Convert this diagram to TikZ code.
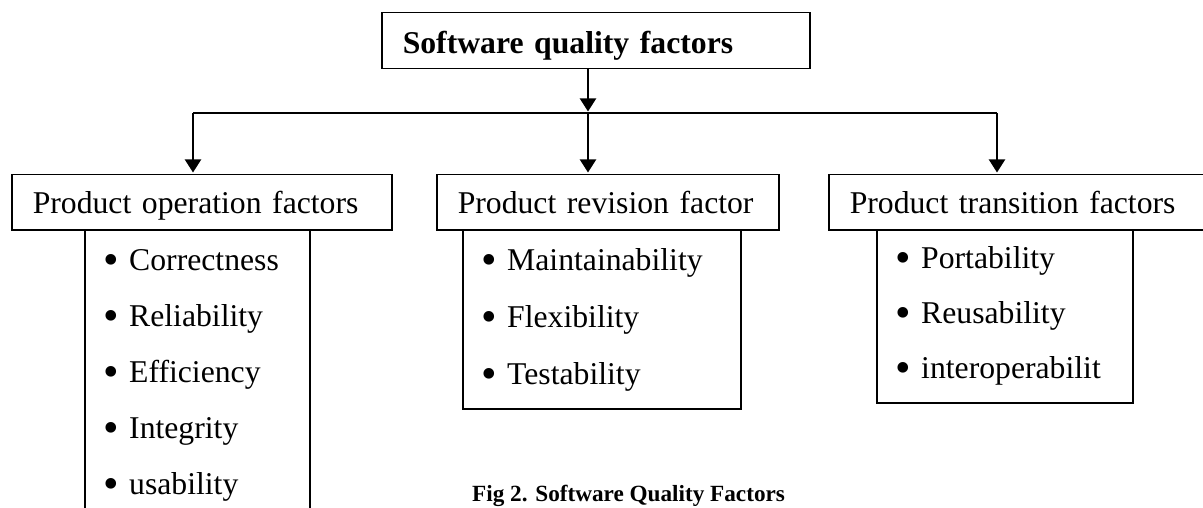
\documentclass[tikz,border=0pt]{standalone}
\usepackage{fontspec}
\setmainfont{Liberation Serif}
\usetikzlibrary{arrows.meta}
\tikzset{
  head/.style={draw, line width=1.5pt, anchor=north west, inner xsep=21pt, inner ysep=0pt,
    minimum height=55pt, align=left, text height=23.1pt, text depth=0pt,
    font=\fontsize{31.7pt}{38pt}\selectfont},
  sublist/.style={draw, line width=1.5pt, anchor=north west, inner sep=0pt},
  entry/.style={anchor=base west, inner sep=0pt, font=\fontsize{31.7pt}{38pt}\selectfont},
  link/.style={draw, line width=1.5pt},
  arrow/.style={-{Triangle[width=16pt,length=13pt]}, line width=2pt, shorten >=1.5pt},
  caption/.style={anchor=base west, inner sep=0pt, font=\fontsize{23.2pt}{28pt}\selectfont\bfseries}
}
\newcommand{\itemdot}{\makebox[26pt][l]{\raisebox{-4pt}{\scalebox{1.4}{\textbullet}}}}

\begin{document}
\begin{tikzpicture}[x=1pt, y=-1pt]
  \useasboundingbox (0,0) rectangle (1203,508);
  \clip (0,0) rectangle (1203,508);
  % top box
  \node[head, text width=386pt, minimum height=56pt, text height=26pt,
    font=\fontsize{31.7pt}{38pt}\selectfont\bfseries] (sqf) at (381,12) {Software quality factors};
  % three factor groups
  \node[head, text width=338pt] (opf) at (11,174) {Product operation factors};
  \node[head, text width=300pt] (prf) at (436,174) {Product revision factor};
  \node[head, text width=380pt] (ptf) at (828,174) {Product transition factors};
  \node[sublist, minimum width=225pt, minimum height=320pt] (ops) at (84,229) {};
  \node[sublist, minimum width=278pt, minimum height=179pt] (prs) at (462,229) {};
  \node[sublist, minimum width=256pt, minimum height=173pt] (pts) at (876,229) {};
  % items
  \node[entry] (correct) at (103,270) {\itemdot Correctness};
  \node[entry] (reliab) at (103,326) {\itemdot Reliability};
  \node[entry] (effic) at (103,382) {\itemdot Efficiency};
  \node[entry] (integ) at (103,438) {\itemdot Integrity};
  \node[entry] (usab) at (103,494) {\itemdot usability};
  \node[entry] (maint) at (481,270) {\itemdot Maintainability};
  \node[entry] (flex) at (481,327) {\itemdot Flexibility};
  \node[entry] (test) at (481,384) {\itemdot Testability};
  \node[entry] (port) at (895,269) {\itemdot Portability};
  \node[entry] (reuse) at (895,323) {\itemdot Reusability};
  \node[entry] (inter) at (895,378) {\itemdot interoperabilit};
  % connectors
  \coordinate (split) at (588,113);
  \coordinate (jl) at (193,113);
  \coordinate (jr) at (997,113);
  \draw[arrow] (sqf.south -| split) -- (split);
  \draw[link] (jl) -- (jr);
  \draw[arrow] (jl) -- (jl |- opf.north);
  \draw[arrow] (split) -- (split |- prf.north);
  \draw[arrow] (jr) -- (jr |- ptf.north);
  \node[caption] (figcap) at (472,501) {Fig 2. Software Quality Factors};
\end{tikzpicture}
\end{document}
